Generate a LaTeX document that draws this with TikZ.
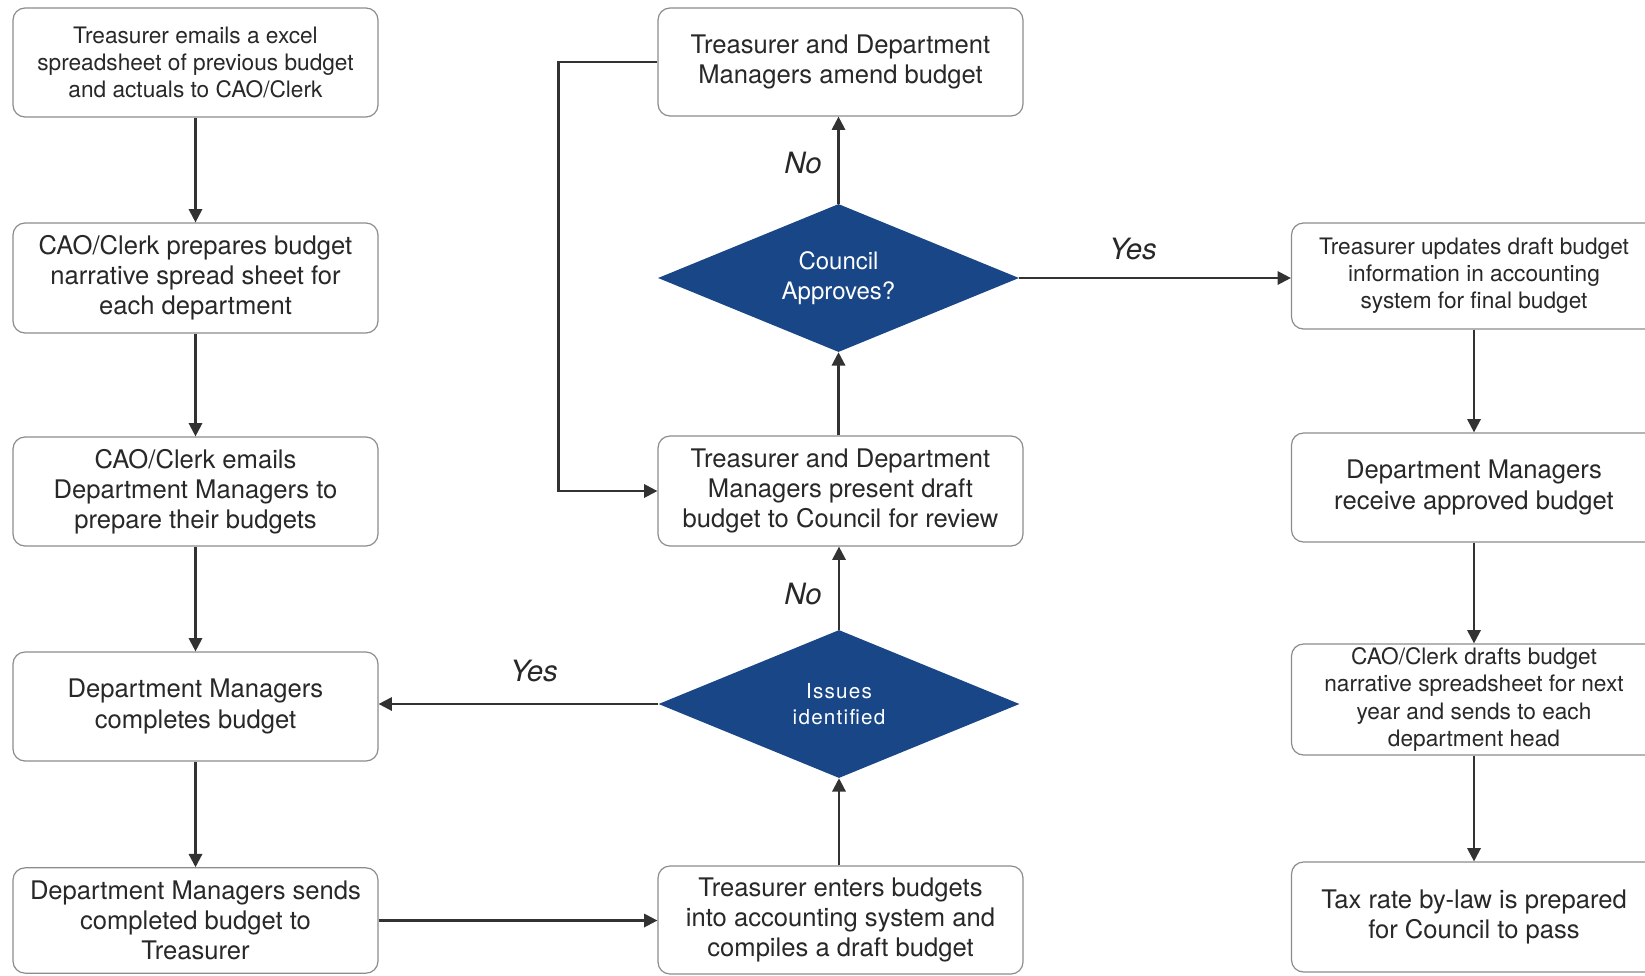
\documentclass[tikz,border=0pt]{standalone}
\usepackage{fontspec}
\setmainfont{TeX Gyre Heros}
\usetikzlibrary{arrows.meta,shapes.geometric}
\definecolor{txt}{RGB}{40,40,40}
\definecolor{bordr}{RGB}{140,140,140}
\definecolor{dblue}{RGB}{24,70,135}
\definecolor{arrc}{RGB}{50,50,50}
\tikzset{
  boxs/.style={draw=bordr, line width=0.9pt, rounded corners=9pt, fill=white, text=txt,
    align=center, minimum width=273.75pt, inner sep=2pt},
  smalltxt/.style={font=\fontsize{17}{20.3}\selectfont},
  bigtxt/.style={font=\fontsize{19.2}{22.6}\selectfont},
  dia/.style={diamond, shape aspect=2.4, fill=dblue, draw=none, text=white, align=center, inner sep=0pt,
    minimum width=270.75pt, minimum height=111pt},
  arr/.style={draw=arrc, line width=1.7pt, -{Triangle[length=10pt,width=10pt]}},
  lab/.style={text=txt, font=\fontsize{22}{24}\selectfont\itshape}
}
\begin{document}
\begin{tikzpicture}[x=0.75pt,y=-0.75pt]
\useasboundingbox (0,0) rectangle (1645,975);
% left column
\node[boxs,smalltxt,minimum height=81.75pt] (b1) at (195.5,62.5) {Treasurer emails a excel\\spreadsheet of previous budget\\and actuals to CAO/Clerk};
\node[boxs,bigtxt,minimum height=82.5pt] (b2) at (195.5,278) {CAO/Clerk prepares budget\\narrative spread sheet for\\each department};
\node[boxs,bigtxt,minimum height=81.75pt] (b3) at (195.5,491.5) {CAO/Clerk emails\\Department Managers to\\prepare their budgets};
\node[boxs,bigtxt,minimum height=81.75pt] (b4) at (195.5,706.5) {Department Managers\\completes budget};
\node[boxs,bigtxt,minimum height=79pt] (b5) at (195.5,920.5) {Department Managers sends\\completed budget to\\Treasurer};
% middle column
\node[boxs,bigtxt,minimum height=81pt] (m1) at (840.5,62) {Treasurer and Department\\Managers amend budget};
\node[dia,font=\fontsize{18}{22.5}\selectfont] (cou) at (838.5,278) {Council\\Approves?};
\node[boxs,bigtxt,minimum height=82.5pt] (m2) at (840.5,491) {Treasurer and Department\\Managers present draft\\budget to Council for review};
\node[dia,font=\fontsize{15.5}{19.5}\selectfont] (iss) at (839,704) {\addfontfeature{LetterSpace=6}Issues\\\addfontfeature{LetterSpace=6}identified};
\node[boxs,bigtxt,minimum height=81pt] (m3) at (840.5,920) {Treasurer enters budgets\\into accounting system and\\compiles a draft budget};
% right column
\node[boxs,smalltxt,minimum height=79.5pt] (r1) at (1474,276) {Treasurer updates draft budget\\information in accounting\\system for final budget};
\node[boxs,bigtxt,minimum height=81.75pt] (r2) at (1474,487.5) {Department Managers\\receive approved budget};
\node[boxs,smalltxt,minimum height=83.25pt] (r3) at (1474,699.5) {CAO/Clerk drafts budget\\narrative spreadsheet for next\\year and sends to each\\department head};
\node[boxs,bigtxt,minimum height=82.5pt] (r4) at (1474,917) {Tax rate by-law is prepared\\for Council to pass};
% connectors left column
\draw[arr] (b1) -- (b2);
\draw[arr] (b2) -- (b3);
\draw[arr] (b3) -- (b4);
\draw[arr] (b4) -- (b5);
\draw[arr] (b5.east) -- (b5.east -| m3.west);
% middle
\draw[arr] (m3.north -| iss.south) -- (iss.south);
\draw[arr] (iss.west) -- (iss.west -| b4.east);
\draw[arr] (iss.north) -- (iss.north |- m2.south);
\draw[arr] (m2.north -| cou.south) -- (cou.south);
\draw[arr] (cou.north) -- (cou.north |- m1.south);
\draw[arr] (cou.east) -- (cou.east -| r1.west);
\draw[arr] (m1.west) -- ++(-99,0) |- (m2.west);
% right column
\draw[arr] (r1) -- (r2);
\draw[arr] (r2) -- (r3);
\draw[arr] (r3) -- (r4);
% labels
\node[lab] (lno1) at (803,163) {No};
\node[lab] (lyes1) at (1133,249) {Yes};
\node[lab] (lyes2) at (534,671) {Yes};
\node[lab] (lno2) at (803,594) {No};
\end{tikzpicture}
\end{document}
